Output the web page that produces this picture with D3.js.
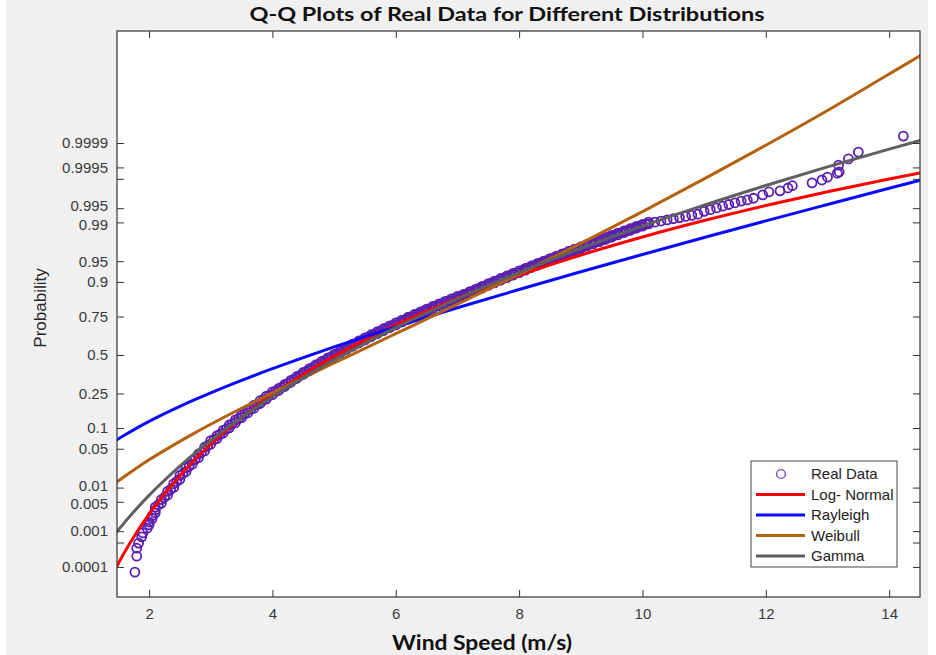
<!DOCTYPE html>
<html><head><meta charset="utf-8">
<script src="https://cdn.jsdelivr.net/npm/d3@7"></script>
<style>body{margin:0;background:#fff}</style>
</head><body>
<svg id="chart" width="936" height="655"></svg>
<script>
// ---------- data (y values are standard-normal quantiles of the probability axis) ----------
const xTicks = [2, 4, 6, 8, 10, 12, 14];
const probTicks  = [0.0001, 0.0005, 0.001, 0.005, 0.01, 0.05, 0.1, 0.25, 0.5, 0.75, 0.9, 0.95, 0.99, 0.995, 0.999, 0.9995, 0.9999];
const probLabels = ["0.0001", "", "0.001", "0.005", "0.01", "0.05", "0.1", "0.25", "0.5", "0.75", "0.9", "0.95", "0.99", "0.995", "", "0.9995", "0.9999"];

const realSpeed = [
  1.77, 1.80, 1.80, 1.83, 1.88, 1.90, 1.97, 2.00, 2.00, 2.05, 2.05, 2.10, 2.10, 2.10, 2.15,
  2.2, 2.2, 2.3, 2.3, 2.4, 2.4, 2.5, 2.5, 2.6, 2.6, 2.7, 2.7, 2.8, 2.8, 2.9, 2.9, 3.0, 3.0,
  3.1, 3.1, 3.2, 3.2, 3.3, 3.3, 3.4, 3.4, 3.5, 3.5, 3.6, 3.6, 3.7, 3.7, 3.8, 3.8, 3.9, 3.9, 4.0, 4.0,
  4.1, 4.1, 4.2, 4.2, 4.3, 4.3, 4.4, 4.4, 4.5, 4.5, 4.6, 4.6, 4.7, 4.7, 4.8, 4.8, 4.9, 4.9, 5.0, 5.0, 5.1, 5.1, 5.2, 5.2, 5.3, 5.3, 5.4, 5.4, 5.5, 5.5,
  5.6, 5.6, 5.7, 5.7, 5.8, 5.8, 5.9, 5.9, 6.0, 6.0, 6.1, 6.1, 6.2, 6.2, 6.3, 6.3, 6.4, 6.4, 6.5, 6.5, 6.6, 6.6, 6.7, 6.7, 6.8, 6.8, 6.9, 6.9, 7.0, 7.0,
  7.1, 7.1, 7.2, 7.2, 7.3, 7.3, 7.4, 7.4, 7.5, 7.5, 7.6, 7.6, 7.7, 7.7, 7.8, 7.8, 7.9, 7.9, 8.0, 8.0, 8.1, 8.1, 8.2, 8.2, 8.3, 8.3, 8.4, 8.4, 8.5, 8.5,
  8.6, 8.6, 8.7, 8.7, 8.8, 8.8, 8.9, 8.9, 9.0, 9.0, 9.1, 9.1, 9.2, 9.2, 9.3, 9.3, 9.4, 9.4, 9.5, 9.5, 9.6, 9.6, 9.7, 9.7, 9.8, 9.8, 9.9, 9.9, 10.0, 10.0, 10.1, 10.1,
  10.2, 10.3, 10.4, 10.5, 10.6, 10.7, 10.8, 10.9, 11.0, 11.1, 11.2, 11.3, 11.4, 11.5, 11.6, 11.7, 11.8, 11.95, 12.05,
  12.23, 12.36, 12.43, 12.75, 12.91, 13.00, 13.16, 13.19, 13.18, 13.34, 13.50, 14.23,
  2.25, 2.35, 2.45, 2.55, 2.65, 2.75, 2.85, 2.95, 3.05, 3.15,
  3.25, 3.35, 3.45, 3.55, 3.65, 3.75, 3.85, 3.95, 4.05, 4.15,
  4.25, 4.35, 4.45, 4.55, 4.65, 4.75, 4.85, 4.95, 5.05, 5.15,
  5.25, 5.35, 5.45, 5.55, 5.65, 5.75, 5.85, 5.95, 6.05, 6.15,
  6.25, 6.35, 6.45, 6.55, 6.65, 6.75, 6.85, 6.95, 7.05, 7.15,
  7.25, 7.35, 7.45, 7.55, 7.65, 7.75, 7.85, 7.95, 8.05, 8.15,
  8.25, 8.35, 8.45, 8.55, 8.65, 8.75, 8.85, 8.95, 9.05, 9.15,
  9.25, 9.35, 9.45, 9.55, 9.65, 9.75, 9.85, 9.95, 10.05
];
const realZ = [
  -3.81, -3.53, -3.39, -3.30, -3.19, -3.12, -3.04, -2.98, -2.93, -2.87, -2.82, -2.77, -2.72, -2.67, -2.63,
  -2.601, -2.536, -2.457, -2.392, -2.323, -2.258, -2.178, -2.113, -2.045, -1.980, -1.918, -1.853, -1.802, -1.737, -1.684, -1.619, -1.566, -1.501,
  -1.467, -1.417, -1.371, -1.321, -1.278, -1.228, -1.188, -1.138, -1.100, -1.050, -1.016, -0.966, -0.933, -0.883, -0.852, -0.802, -0.774, -0.724, -0.697, -0.647,
  -0.623, -0.588, -0.550, -0.515, -0.479, -0.444, -0.409, -0.374, -0.341, -0.306, -0.275, -0.240, -0.210, -0.175, -0.146, -0.111, -0.084, -0.049, -0.023, 0.012, 0.037, 0.072, 0.096, 0.131, 0.153, 0.188, 0.210, 0.245, 0.265, 0.300,
  0.320, 0.355, 0.373, 0.408, 0.426, 0.461, 0.477, 0.512, 0.528, 0.563, 0.578, 0.613, 0.627, 0.662, 0.675, 0.710, 0.723, 0.758, 0.770, 0.805, 0.816, 0.851, 0.861, 0.896, 0.906, 0.941, 0.950, 0.985, 0.994, 1.029,
  1.034, 1.064, 1.081, 1.111, 1.127, 1.157, 1.174, 1.204, 1.221, 1.251, 1.266, 1.296, 1.312, 1.342, 1.356, 1.386, 1.402, 1.432, 1.446, 1.476, 1.489, 1.519, 1.534, 1.564, 1.576, 1.606, 1.618, 1.648, 1.661, 1.691,
  1.703, 1.733, 1.745, 1.775, 1.786, 1.816, 1.828, 1.858, 1.868, 1.898, 1.909, 1.939, 1.949, 1.979, 1.989, 2.019, 2.028, 2.058, 2.068, 2.098, 2.107, 2.137, 2.145, 2.175, 2.185, 2.215, 2.224, 2.254, 2.261, 2.291, 2.300, 2.330,
  2.33, 2.35, 2.37, 2.39, 2.41, 2.43, 2.45, 2.47, 2.52, 2.55, 2.58, 2.61, 2.64, 2.67, 2.70, 2.72, 2.75, 2.81, 2.86,
  2.88, 2.93, 2.97, 3.02, 3.07, 3.12, 3.19, 3.21, 3.33, 3.44, 3.56, 3.84,
  -2.496, -2.357, -2.218, -2.079, -1.949, -1.827, -1.710, -1.592, -1.487, -1.394,
  -1.300, -1.208, -1.119, -1.033, -0.950, -0.868, -0.788, -0.711, -0.638, -0.569,
  -0.497, -0.426, -0.357, -0.290, -0.225, -0.160, -0.097, -0.036, 0.025, 0.084,
  0.142, 0.199, 0.255, 0.310, 0.364, 0.417, 0.469, 0.520, 0.571, 0.620,
  0.669, 0.717, 0.764, 0.811, 0.856, 0.901, 0.946, 0.990, 1.030, 1.073,
  1.119, 1.166, 1.213, 1.259, 1.304, 1.349, 1.394, 1.439, 1.483, 1.527,
  1.570, 1.612, 1.655, 1.697, 1.739, 1.781, 1.822, 1.863, 1.904, 1.944,
  1.984, 2.024, 2.063, 2.103, 2.141, 2.180, 2.220, 2.258, 2.296
];

const curveSpeed = [1.48, 1.6, 1.8, 2.0, 2.25, 2.5, 2.75, 3, 3.5, 4, 4.5, 5, 5.5, 6, 7, 8, 9, 10, 11, 12, 13, 14, 14.5];
const lognormalZ = [-3.701, -3.465, -3.109, -2.791, -2.435, -2.117, -1.829, -1.566, -1.100, -0.697, -0.341, -0.023, 0.265, 0.528, 0.994, 1.397, 1.753, 2.071, 2.359, 2.622, 2.864, 3.088, 3.194];
const rayleighZ  = [-1.486, -1.407, -1.283, -1.166, -1.030, -0.902, -0.780, -0.664, -0.445, -0.240, -0.045, 0.141, 0.319, 0.493, 0.828, 1.149, 1.460, 1.764, 2.061, 2.353, 2.640, 2.925, 3.066];
const weibullZ   = [-2.227, -2.132, -1.982, -1.840, -1.674, -1.515, -1.362, -1.216, -0.935, -0.664, -0.401, -0.141, 0.116, 0.374, 0.891, 1.418, 1.958, 2.515, 3.089, 3.680, 4.290, 4.930, 5.250];
const gammaZ     = [-3.098, -2.941, -2.693, -2.463, -2.198, -1.950, -1.718, -1.500, -1.098, -0.733, -0.397, -0.085, 0.205, 0.480, 0.986, 1.446, 1.868, 2.261, 2.629, 2.973, 3.300, 3.611, 3.762];

const seriesNames  = ["Log- Normal", "Rayleigh", "Weibull", "Gamma"];
const seriesColors = ["#ff0000", "#0a0aff", "#b5610e", "#5f5f5f"];
const seriesValues = [lognormalZ, rayleighZ, weibullZ, gammaZ];

// inverse standard normal CDF (Acklam) used to place probability ticks
function probit(p){
  const a=[-3.969683028665376e+01,2.209460984245205e+02,-2.759285104469687e+02,1.383577518672690e+02,-3.066479806614716e+01,2.506628277459239e+00];
  const b=[-5.447609879822406e+01,1.615858368580409e+02,-1.556989798598866e+02,6.680131188771972e+01,-1.328068155288572e+01];
  const c=[-7.784894002430293e-03,-3.223964580411365e-01,-2.400758277161838e+00,-2.549732539343734e+00,4.374664141464968e+00,2.938163982698783e+00];
  const d=[7.784695709041462e-03,3.224671290700398e-01,2.445134137142996e+00,3.754408661907416e+00];
  const pl=0.02425, ph=1-pl; let q,r;
  if(p<pl){q=Math.sqrt(-2*Math.log(p));return (((((c[0]*q+c[1])*q+c[2])*q+c[3])*q+c[4])*q+c[5])/((((d[0]*q+d[1])*q+d[2])*q+d[3])*q+1);}
  if(p<=ph){q=p-0.5;r=q*q;return (((((a[0]*r+a[1])*r+a[2])*r+a[3])*r+a[4])*r+a[5])*q/(((((b[0]*r+b[1])*r+b[2])*r+b[3])*r+b[4])*r+1);}
  q=Math.sqrt(-2*Math.log(1-p));return -(((((c[0]*q+c[1])*q+c[2])*q+c[3])*q+c[4])*q+c[5])/((((d[0]*q+d[1])*q+d[2])*q+d[3])*q+1);
}

// ---------- layout ----------
const svg = d3.select("#chart");
const M = {l:117, t:31, r:920, b:597};
const x = d3.scaleLinear().domain([1.48, 14.5]).range([M.l, M.r]);
const y = d3.scaleLinear().domain([-4.246, 5.684]).range([M.b, M.t]);
const tickFont = "'Liberation Sans', Arial, sans-serif";
const dataColor = "#5a1eb0";

svg.append("rect").attr("x",6).attr("y",0).attr("width",922).attr("height",655).attr("fill","#f0f0f0");
svg.append("rect").attr("x",M.l).attr("y",M.t).attr("width",M.r-M.l).attr("height",M.b-M.t).attr("fill","#fff");

svg.append("clipPath").attr("id","plotclip").append("rect")
  .attr("x",M.l).attr("y",M.t).attr("width",M.r-M.l).attr("height",M.b-M.t);
const plot = svg.append("g").attr("clip-path","url(#plotclip)");

// data circles
plot.append("g").selectAll("circle").data(realSpeed.map((s,i)=>[s, realZ[i]])).join("circle")
  .attr("cx", d=>x(d[0])).attr("cy", d=>y(d[1])).attr("r", 4.5)
  .attr("fill","none").attr("stroke",dataColor).attr("stroke-width",1.8);

// fitted curves
const line = d3.line().x((d,i)=>x(curveSpeed[i])).y(d=>y(d)).curve(d3.curveMonotoneX);
seriesValues.forEach((vals, k) => {
  plot.append("path").attr("d", line(vals)).attr("fill","none")
    .attr("stroke", seriesColors[k]).attr("stroke-width", 3).attr("stroke-linecap","round");
});

// axes
const zTicks = probTicks.map(probit);
function styleAxis(g){
  g.select(".domain").remove();
  g.selectAll(".tick line").attr("stroke","#333").attr("stroke-width",1);
  g.selectAll(".tick text").attr("fill","#3a3a3a").style("font-family",tickFont).style("font-size","15px");
}
svg.append("g").attr("transform",`translate(0,${M.b})`)
  .call(d3.axisBottom(x).tickValues(xTicks).tickFormat(d3.format("d")).tickSize(-7).tickPadding(11)).call(styleAxis);
svg.append("g").attr("transform",`translate(0,${M.t})`)
  .call(d3.axisTop(x).tickValues(xTicks).tickFormat("").tickSize(-7)).call(styleAxis);
const yAxisG = svg.append("g").attr("transform",`translate(${M.l},0)`)
  .call(d3.axisLeft(y).tickValues(zTicks).tickFormat((d,i)=>probLabels[i]).tickSize(-7).tickPadding(9)).call(styleAxis);
// nudge the two tightly packed label pairs apart slightly
const nudge = {"0.995": -2, "0.99": 2, "0.01": -2, "0.005": 2};
yAxisG.selectAll(".tick text").each(function(){
  const t = d3.select(this).text();
  if (nudge[t] !== undefined) d3.select(this).attr("y", nudge[t]);
});
svg.append("g").attr("transform",`translate(${M.r},0)`)
  .call(d3.axisRight(y).tickValues(zTicks).tickFormat("").tickSize(-7)).call(styleAxis);

svg.append("rect").attr("x",M.l).attr("y",M.t).attr("width",M.r-M.l).attr("height",M.b-M.t)
  .attr("fill","none").attr("stroke","#333").attr("stroke-width",1.2);

// title & axis labels
svg.append("text").attr("x",507).attr("y",21).attr("text-anchor","middle")
  .style("font-family","Lato, 'Open Sans', sans-serif").style("font-weight","bold").style("font-size","19px")
  .attr("textLength",515).attr("lengthAdjust","spacingAndGlyphs").attr("fill","#111")
  .text("Q-Q Plots of Real Data for Different Distributions");
svg.append("text").attr("x",482).attr("y",650).attr("text-anchor","middle")
  .style("font-family","Lato, 'Open Sans', sans-serif").style("font-weight","bold").style("font-size","20px")
  .attr("textLength",180).attr("lengthAdjust","spacingAndGlyphs").attr("fill","#111")
  .text("Wind Speed (m/s)");
svg.append("text").attr("transform","translate(46,308) rotate(-90)").attr("text-anchor","middle")
  .style("font-family",tickFont).style("font-size","17px").attr("fill","#262626")
  .text("Probability");

// legend
const L = svg.append("g");
L.append("rect").attr("x",751).attr("y",461).attr("width",146).attr("height",106)
  .attr("fill","#fff").attr("stroke","#444").attr("stroke-width",1);
const legendNames = ["Real Data"].concat(seriesNames);
legendNames.forEach((name, i) => {
  const ly = 474 + i*20.5;
  if (i === 0) {
    L.append("circle").attr("cx",781).attr("cy",ly).attr("r",4.4)
      .attr("fill","none").attr("stroke","#7a44c8").attr("stroke-width",1.4);
  } else {
    L.append("line").attr("x1",756).attr("x2",805).attr("y1",ly).attr("y2",ly)
      .attr("stroke",seriesColors[i-1]).attr("stroke-width",3);
  }
  L.append("text").attr("x",811).attr("y",ly).attr("dy","0.35em")
    .style("font-family",tickFont).style("font-size","15px").attr("fill","#222").text(name);
});
</script>
</body></html>
